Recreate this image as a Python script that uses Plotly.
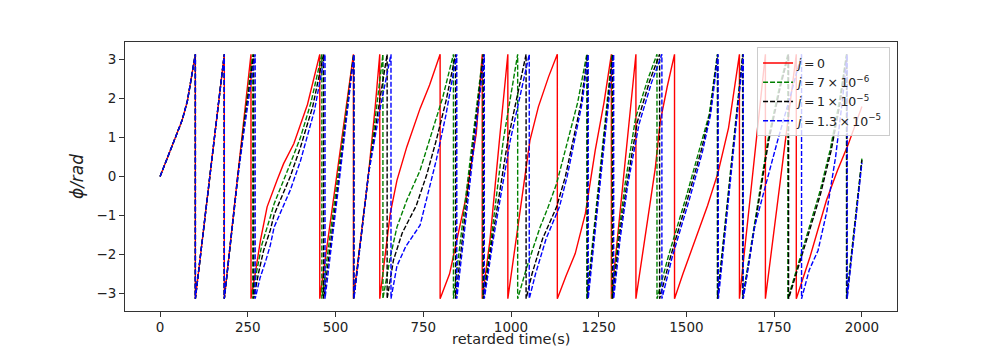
import plotly.graph_objects as go

# phase phi (rad) vs retarded time (s); repeated t = wrap from +pi to -pi
t_j0 = [0, 29, 50, 63, 78, 87, 100.5,
        100.5, 140, 183,
        183, 221, 259,
        259, 265, 271, 286, 305, 333, 352, 381, 420, 455,
        455, 503, 551,
        551, 594, 613, 626,
        626, 641, 656, 675, 703, 741, 768, 798,
        798, 825, 844, 872, 901, 918,
        918, 940, 967, 991,
        991, 1007, 1031, 1054, 1078, 1107, 1132,
        1132, 1157, 1183, 1212, 1240, 1265, 1286,
        1286, 1321, 1356,
        1356, 1372, 1392, 1411, 1425, 1445, 1466,
        1466, 1490, 1520, 1560, 1590, 1620, 1651,
        1651, 1688, 1725,
        1725, 1769, 1813,
        1813, 1852, 1899, 1930, 1960, 1980, 2000]
phi_j0 = [0, 0.68, 1.12, 1.45, 1.95, 2.39, 3.14,
          -3.14, -0.1, 3.14,
          -3.14, 0.0, 3.14,
          -3.14, -2.85, -2.5, -1.64, -0.78, -0.1, 0.33, 0.84, 1.85, 3.14,
          -3.14, 0.0, 3.14,
          -3.14, 0.07, 1.79, 3.14,
          -3.14, -2.07, -0.95, -0.1, 0.76, 1.75, 2.35, 3.14,
          -3.14, -2.5, -1.73, -0.53, 1.1, 3.14,
          -3.14, -1.64, 0.93, 3.14,
          -3.14, -2.07, -0.61, 0.93, 1.79, 2.56, 3.14,
          -3.14, -2.55, -1.98, -0.95, 0.67, 1.9, 3.14,
          -3.14, 0.0, 3.14,
          -3.14, -2.2, -1.0, 0.2, 1.4, 2.3, 3.14,
          -3.14, -2.5, -1.75, -0.75, 0.1, 1.25, 3.14,
          -3.14, 0.0, 3.14,
          -3.14, 0.0, 3.14,
          -3.14, -2.07, -0.61, 0.15, 0.8, 1.3, 1.8]

t_j7 = [0, 29, 50, 63, 78, 87, 100.5,
        100.5, 140, 183,
        183, 221, 242, 264,
        264, 275, 290, 314, 325, 371, 400, 430, 461,
        461, 507, 551.5,
        551.5, 594, 617, 635,
        635, 656, 675, 703, 741, 768, 806, 836,
        836, 878, 920,
        920, 943, 978, 1019,
        1019, 1045, 1083, 1106, 1130, 1163, 1190, 1216,
        1216, 1252, 1288,
        1288, 1305, 1325, 1355, 1390, 1416,
        1416, 1450, 1500, 1540, 1565, 1588,
        1588, 1624, 1660,
        1660, 1704, 1732, 1765, 1789,
        1789, 1820, 1850, 1880, 1910, 1935, 1956,
        1956, 2000]
phi_j7 = [0, 0.68, 1.12, 1.45, 1.95, 2.39, 3.14,
          -3.14, -0.1, 3.14,
          -3.14, 0.0, 1.6, 3.14,
          -3.14, -2.45, -1.75, -1.04, -0.7, 0.33, 1.0, 1.9, 3.14,
          -3.14, 0.0, 3.14,
          -3.14, 0.07, 1.79, 3.14,
          -3.14, -2.07, -1.3, -0.61, 0.16, 0.93, 2.05, 3.14,
          -3.14, 0.0, 3.14,
          -3.14, -1.64, 0.93, 3.14,
          -3.14, -2.33, -1.3, -0.78, -0.18, 0.93, 1.9, 3.14,
          -3.14, 0.0, 3.14,
          -3.14, -1.6, -0.2, 1.5, 2.5, 3.14,
          -3.14, -2.0, -0.5, 0.75, 1.6, 3.14,
          -3.14, 0.0, 3.14,
          -3.14, -0.61, 0.93, 2.3, 3.14,
          -3.14, -2.2, -1.3, -0.4, 0.7, 1.9, 3.14,
          -3.14, 0.46]

t_j10 = [0, 29, 50, 63, 78, 87, 100.5,
         100.5, 140, 183,
         183, 221, 242, 267,
         267, 280, 295, 314, 325, 371, 400, 435, 466,
         466, 510, 552,
         552, 594, 623, 647,
         647, 665, 690, 730, 760, 787, 815, 842,
         842, 882, 921.5,
         921.5, 946, 991, 1043,
         1043, 1060, 1090, 1130, 1155, 1178, 1200, 1218,
         1218, 1254, 1290,
         1290, 1308, 1330, 1360, 1395, 1423.5,
         1423.5, 1455, 1504, 1543, 1567, 1589,
         1589, 1625, 1661,
         1661, 1706, 1734, 1767, 1791,
         1791, 1822, 1852, 1882, 1912, 1937, 1957,
         1957, 2000]
phi_j10 = [0, 0.68, 1.12, 1.45, 1.95, 2.39, 3.14,
           -3.14, -0.1, 3.14,
           -3.14, 0.0, 1.5, 3.14,
           -3.14, -2.5, -1.9, -1.38, -0.98, 0.0, 0.75, 1.8, 3.14,
           -3.14, 0.0, 3.14,
           -3.14, 0.07, 1.79, 3.14,
           -3.14, -2.15, -1.45, -0.75, 0.05, 0.93, 1.95, 3.14,
           -3.14, 0.0, 3.14,
           -3.14, -1.64, 0.93, 3.14,
           -3.14, -2.5, -1.6, -0.78, 0.0, 0.93, 1.9, 3.14,
           -3.14, 0.0, 3.14,
           -3.14, -1.6, -0.2, 1.4, 2.45, 3.14,
           -3.14, -2.05, -0.55, 0.7, 1.6, 3.14,
           -3.14, 0.0, 3.14,
           -3.14, -0.65, 0.9, 2.28, 3.14,
           -3.14, -2.25, -1.35, -0.45, 0.65, 1.85, 3.14,
           -3.14, 0.42]

t_j13 = [0, 29, 50, 63, 78, 87, 100.5,
         100.5, 140, 183,
         183, 221, 242, 271,
         271, 285, 300, 314, 325, 371, 400, 440, 470,
         470, 512, 552.5,
         552.5, 594, 628, 658,
         658, 675, 700, 730, 741, 787, 815, 845.5,
         845.5, 885, 924,
         924, 949, 998, 1052,
         1052, 1070, 1100, 1138, 1160, 1182, 1203, 1220,
         1220, 1256, 1292.6,
         1292.6, 1311, 1333, 1365, 1400, 1430,
         1430, 1460, 1508, 1546, 1569, 1590,
         1591, 1627, 1662,
         1662, 1694, 1732, 1760, 1798, 1828,
         1828, 1850, 1875, 1900, 1925, 1945, 1958,
         1958, 2000]
phi_j13 = [0, 0.68, 1.12, 1.45, 1.95, 2.39, 3.14,
           -3.14, -0.1, 3.14,
           -3.14, -0.05, 1.35, 3.14,
           -3.14, -2.6, -2.2, -1.77, -1.3, -0.35, 0.4, 1.7, 3.14,
           -3.14, 0.0, 3.14,
           -3.14, 0.07, 1.79, 3.14,
           -3.14, -2.3, -1.8, -1.38, -1.25, 0.42, 1.6, 3.14,
           -3.14, 0.0, 3.14,
           -3.14, -1.64, 0.93, 3.14,
           -3.14, -2.5, -1.6, -0.78, 0.0, 0.93, 1.9, 3.14,
           -3.14, 0.0, 3.14,
           -3.14, -1.6, -0.2, 1.35, 2.4, 3.14,
           -3.14, -2.05, -0.6, 0.65, 1.6, 3.14,
           -3.14, 0.0, 3.14,
           -3.14, -1.3, -0.01, 0.93, 2.13, 3.14,
           -3.14, -2.4, -1.9, -0.9, 0.5, 2.0, 3.14,
           -3.14, 0.35]

names = ["<i>j</i>\u2009=\u20090",
         "<i>j</i>\u2009=\u20097\u2009×\u200910<sup>−6</sup>",
         "<i>j</i>\u2009=\u20091\u2009×\u200910<sup>−5</sup>",
         "<i>j</i>\u2009=\u20091.3\u2009×\u200910<sup>−5</sup>"]
xticks = [0, 250, 500, 750, 1000, 1250, 1500, 1750, 2000]
yticks = [-3, -2, -1, 0, 1, 2, 3]

fig = go.Figure()
series = [(t_j0, phi_j0, "#ff0000", "solid"),
          (t_j7, phi_j7, "#008000", "5px,2px"),
          (t_j10, phi_j10, "#000000", "5px,2px"),
          (t_j13, phi_j13, "#0000ff", "5px,2px")]
for (t, phi, col, dash), name in zip(series, names):
    fig.add_trace(go.Scatter(x=t, y=phi, mode="lines", name=name,
                             line=dict(color=col, width=1.4, dash=dash)))

axis_common = dict(showgrid=False, zeroline=False, showline=True, mirror=True,
                   linecolor="#333333", linewidth=1, ticks="outside", ticklen=5,
                   tickwidth=1, tickcolor="#333333", automargin=False,
                   tickfont=dict(family="DejaVu Sans", size=13.5, color="#222222"))

fig.update_layout(
    width=997, height=349,
    margin=dict(l=125, r=100, t=42, b=38, autoexpand=False),
    paper_bgcolor="white", plot_bgcolor="white",
    font=dict(family="DejaVu Sans", color="#222222"),
    showlegend=True,
    legend=dict(x=0.991, y=0.98, xanchor="right", yanchor="top",
                bgcolor="rgba(255,255,255,0.8)", bordercolor="#cccccc", borderwidth=1,
                font=dict(family="DejaVu Sans", size=12.5), tracegroupgap=0),
    xaxis=dict(range=[-100, 2100], tickvals=xticks, ticklabelstandoff=-1,
               **axis_common),
    yaxis=dict(range=[-3.456, 3.456], tickvals=yticks, tickformat="d",
               title=dict(text="<i>ϕ/rad</i>", font=dict(size=17), standoff=8),
               **axis_common),
)

# x label as a fixed-position annotation so it sits just under the tick labels
fig.add_annotation(text="retarded time(s)", xref="paper", yref="paper", x=0.5, y=0,
                   xanchor="center", yanchor="top", yshift=-19, borderpad=0,
                   showarrow=False,
                   font=dict(family="DejaVu Sans", size=14.5, color="#222222"))

# the page body has a default 8px margin; drop it so the figure sits at the window corner
fig.write_html("out.html", config={"displayModeBar": False},
               post_script="document.body.style.margin='0px';")
